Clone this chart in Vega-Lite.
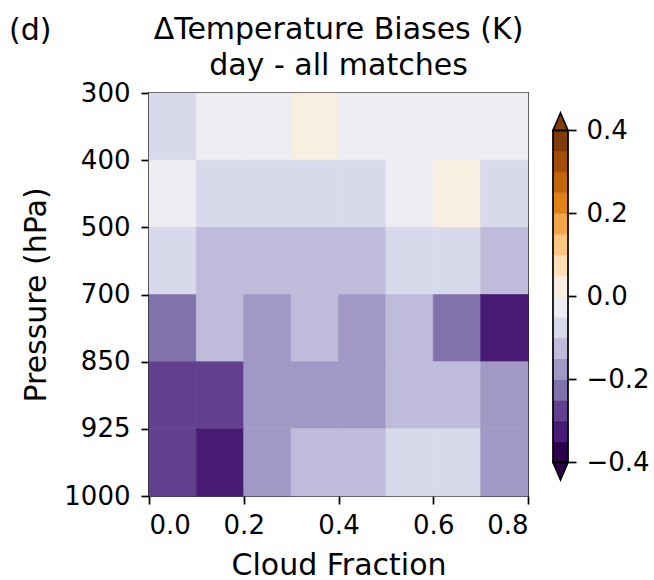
{
  "$schema": "https://vega.github.io/schema/vega-lite/v6.json",
  "background": "white",
  "padding": {"left": 8, "top": 14, "right": 5, "bottom": 0},
  "title": {"text": "(d)", "anchor": "start", "frame": "bounds", "offset": -32, "dx": -12, "fontSize": 30},
  "config": {
    "font": "DejaVu Sans",
    "view": {"stroke": null},
    "axis": {"labelFont": "DejaVu Sans", "labelFontSize": 26, "labelColor": "black", "titleFont": "DejaVu Sans", "titleFontSize": 30, "titleFontWeight": "normal", "titleColor": "black", "tickColor": "black", "tickWidth": 1.7, "tickSize": 8, "domainColor": "black", "domainWidth": 1.7, "grid": false, "labelPadding": 10},
    "title": {"font": "DejaVu Sans", "fontSize": 30, "fontWeight": "normal", "color": "black"}
  },
  "datasets": {
    "cells": [
      {"cf0": 0.0, "cf1": 0.1, "p0": 300, "p1": 400, "bias": -0.07},
      {"cf0": 0.1, "cf1": 0.2, "p0": 300, "p1": 400, "bias": -0.02},
      {"cf0": 0.2, "cf1": 0.3, "p0": 300, "p1": 400, "bias": -0.02},
      {"cf0": 0.3, "cf1": 0.4, "p0": 300, "p1": 400, "bias": 0.02},
      {"cf0": 0.4, "cf1": 0.5, "p0": 300, "p1": 400, "bias": -0.02},
      {"cf0": 0.5, "cf1": 0.6, "p0": 300, "p1": 400, "bias": -0.02},
      {"cf0": 0.6, "cf1": 0.7, "p0": 300, "p1": 400, "bias": -0.02},
      {"cf0": 0.7, "cf1": 0.8, "p0": 300, "p1": 400, "bias": -0.02},
      {"cf0": 0.0, "cf1": 0.1, "p0": 400, "p1": 500, "bias": -0.03},
      {"cf0": 0.1, "cf1": 0.2, "p0": 400, "p1": 500, "bias": -0.07},
      {"cf0": 0.2, "cf1": 0.3, "p0": 400, "p1": 500, "bias": -0.07},
      {"cf0": 0.3, "cf1": 0.4, "p0": 400, "p1": 500, "bias": -0.07},
      {"cf0": 0.4, "cf1": 0.5, "p0": 400, "p1": 500, "bias": -0.07},
      {"cf0": 0.5, "cf1": 0.6, "p0": 400, "p1": 500, "bias": -0.03},
      {"cf0": 0.6, "cf1": 0.7, "p0": 400, "p1": 500, "bias": 0.02},
      {"cf0": 0.7, "cf1": 0.8, "p0": 400, "p1": 500, "bias": -0.07},
      {"cf0": 0.0, "cf1": 0.1, "p0": 500, "p1": 700, "bias": -0.08},
      {"cf0": 0.1, "cf1": 0.2, "p0": 500, "p1": 700, "bias": -0.12},
      {"cf0": 0.2, "cf1": 0.3, "p0": 500, "p1": 700, "bias": -0.12},
      {"cf0": 0.3, "cf1": 0.4, "p0": 500, "p1": 700, "bias": -0.12},
      {"cf0": 0.4, "cf1": 0.5, "p0": 500, "p1": 700, "bias": -0.12},
      {"cf0": 0.5, "cf1": 0.6, "p0": 500, "p1": 700, "bias": -0.08},
      {"cf0": 0.6, "cf1": 0.7, "p0": 500, "p1": 700, "bias": -0.08},
      {"cf0": 0.7, "cf1": 0.8, "p0": 500, "p1": 700, "bias": -0.12},
      {"cf0": 0.0, "cf1": 0.1, "p0": 700, "p1": 850, "bias": -0.22},
      {"cf0": 0.1, "cf1": 0.2, "p0": 700, "p1": 850, "bias": -0.12},
      {"cf0": 0.2, "cf1": 0.3, "p0": 700, "p1": 850, "bias": -0.17},
      {"cf0": 0.3, "cf1": 0.4, "p0": 700, "p1": 850, "bias": -0.12},
      {"cf0": 0.4, "cf1": 0.5, "p0": 700, "p1": 850, "bias": -0.17},
      {"cf0": 0.5, "cf1": 0.6, "p0": 700, "p1": 850, "bias": -0.12},
      {"cf0": 0.6, "cf1": 0.7, "p0": 700, "p1": 850, "bias": -0.22},
      {"cf0": 0.7, "cf1": 0.8, "p0": 700, "p1": 850, "bias": -0.32},
      {"cf0": 0.0, "cf1": 0.1, "p0": 850, "p1": 925, "bias": -0.27},
      {"cf0": 0.1, "cf1": 0.2, "p0": 850, "p1": 925, "bias": -0.27},
      {"cf0": 0.2, "cf1": 0.3, "p0": 850, "p1": 925, "bias": -0.17},
      {"cf0": 0.3, "cf1": 0.4, "p0": 850, "p1": 925, "bias": -0.17},
      {"cf0": 0.4, "cf1": 0.5, "p0": 850, "p1": 925, "bias": -0.17},
      {"cf0": 0.5, "cf1": 0.6, "p0": 850, "p1": 925, "bias": -0.12},
      {"cf0": 0.6, "cf1": 0.7, "p0": 850, "p1": 925, "bias": -0.12},
      {"cf0": 0.7, "cf1": 0.8, "p0": 850, "p1": 925, "bias": -0.17},
      {"cf0": 0.0, "cf1": 0.1, "p0": 925, "p1": 1000, "bias": -0.27},
      {"cf0": 0.1, "cf1": 0.2, "p0": 925, "p1": 1000, "bias": -0.32},
      {"cf0": 0.2, "cf1": 0.3, "p0": 925, "p1": 1000, "bias": -0.17},
      {"cf0": 0.3, "cf1": 0.4, "p0": 925, "p1": 1000, "bias": -0.12},
      {"cf0": 0.4, "cf1": 0.5, "p0": 925, "p1": 1000, "bias": -0.12},
      {"cf0": 0.5, "cf1": 0.6, "p0": 925, "p1": 1000, "bias": -0.08},
      {"cf0": 0.6, "cf1": 0.7, "p0": 925, "p1": 1000, "bias": -0.08},
      {"cf0": 0.7, "cf1": 0.8, "p0": 925, "p1": 1000, "bias": -0.17}
    ],
    "cbar": [
      {"lo": -0.4, "hi": -0.35}, {"lo": -0.35, "hi": -0.3}, {"lo": -0.3, "hi": -0.25}, {"lo": -0.25, "hi": -0.2},
      {"lo": -0.2, "hi": -0.15}, {"lo": -0.15, "hi": -0.1}, {"lo": -0.1, "hi": -0.05}, {"lo": -0.05, "hi": 0.0},
      {"lo": 0.0, "hi": 0.05}, {"lo": 0.05, "hi": 0.1}, {"lo": 0.1, "hi": 0.15}, {"lo": 0.15, "hi": 0.2},
      {"lo": 0.2, "hi": 0.25}, {"lo": 0.25, "hi": 0.3}, {"lo": 0.3, "hi": 0.35}, {"lo": 0.35, "hi": 0.4}
    ],
    "ends": [
      {"side": "over", "end": 0.4},
      {"side": "under", "end": -0.4}
    ]
  },
  "spacing": 25,
  "bounds": "flush",
  "hconcat": [
    {
      "width": 379,
      "height": 403,
      "view": {"stroke": "black", "strokeWidth": 1.7},
      "title": {"text": ["ΔTemperature Biases (K)", "day - all matches"], "lineHeight": 36, "offset": -1, "anchor": "middle"},
      "data": {"name": "cells"},
      "transform": [
        {"calculate": "indexof([300,400,500,700,850,925,1000], datum.p0)", "as": "y0"},
        {"calculate": "indexof([300,400,500,700,850,925,1000], datum.p1)", "as": "y1"}
      ],
      "mark": {"type": "rect", "strokeWidth": 0.6},
      "encoding": {
        "x": {"field": "cf0", "type": "quantitative", "scale": {"domain": [0, 0.8], "nice": false, "zero": false},
              "axis": {"values": [0, 0.2, 0.4, 0.6, 0.8], "format": ".1f", "title": "Cloud Fraction", "domain": false, "labelPadding": 8, "titlePadding": 12}},
        "x2": {"field": "cf1"},
        "y": {"field": "y0", "type": "quantitative", "scale": {"domain": [0, 6], "reverse": true, "nice": false, "zero": false},
              "axis": {"values": [0, 1, 2, 3, 4, 5, 6], "labelExpr": "'' + [300,400,500,700,850,925,1000][datum.value]", "title": "Pressure (hPa)", "domain": false, "labelPadding": 11, "titlePadding": 12}},
        "y2": {"field": "y1"},
        "color": {"field": "bias", "type": "quantitative",
                  "scale": {"type": "threshold", "domain": [-0.35, -0.3, -0.25, -0.2, -0.15, -0.1, -0.05, 0.0, 0.05, 0.1, 0.15, 0.2, 0.25, 0.3, 0.35],
                            "range": ["#2d004b", "#471a74", "#63408f", "#8073ac", "#a198c5", "#bfbbda", "#d8daeb", "#ededf3", "#f9efe1", "#fee0b6", "#fdc57f", "#f3a649", "#e08214", "#c2660b", "#a24e07", "#7f3b08"]},
                  "legend": null},
        "stroke": {"field": "bias", "type": "quantitative",
                  "scale": {"type": "threshold", "domain": [-0.35, -0.3, -0.25, -0.2, -0.15, -0.1, -0.05, 0.0, 0.05, 0.1, 0.15, 0.2, 0.25, 0.3, 0.35],
                            "range": ["#2d004b", "#471a74", "#63408f", "#8073ac", "#a198c5", "#bfbbda", "#d8daeb", "#ededf3", "#f9efe1", "#fee0b6", "#fdc57f", "#f3a649", "#e08214", "#c2660b", "#a24e07", "#7f3b08"]},
                  "legend": null}
      }
    },
    {
      "width": 15,
      "height": 403,
      "view": {"stroke": null},
      "layer": [
        {
          "data": {"name": "cbar"},
          "mark": {"type": "rect", "strokeWidth": 0.6},
          "encoding": {
            "y": {"field": "lo", "type": "quantitative", "scale": {"domain": [-0.481, 0.49], "nice": false, "zero": false},
                  "axis": {"orient": "right", "values": [-0.4, -0.2, 0, 0.2, 0.4], "format": ".1f", "title": null, "domain": false}},
            "y2": {"field": "hi"},
            "color": {"field": "lo", "type": "quantitative",
                      "scale": {"type": "threshold", "domain": [-0.35, -0.3, -0.25, -0.2, -0.15, -0.1, -0.05, 0.0, 0.05, 0.1, 0.15, 0.2, 0.25, 0.3, 0.35],
                                "range": ["#2d004b", "#471a74", "#63408f", "#8073ac", "#a198c5", "#bfbbda", "#d8daeb", "#ededf3", "#f9efe1", "#fee0b6", "#fdc57f", "#f3a649", "#e08214", "#c2660b", "#a24e07", "#7f3b08"]},
                      "legend": null},
            "stroke": {"field": "lo", "type": "quantitative",
                      "scale": {"type": "threshold", "domain": [-0.35, -0.3, -0.25, -0.2, -0.15, -0.1, -0.05, 0.0, 0.05, 0.1, 0.15, 0.2, 0.25, 0.3, 0.35],
                                "range": ["#2d004b", "#471a74", "#63408f", "#8073ac", "#a198c5", "#bfbbda", "#d8daeb", "#ededf3", "#f9efe1", "#fee0b6", "#fdc57f", "#f3a649", "#e08214", "#c2660b", "#a24e07", "#7f3b08"]},
                      "legend": null}
          }
        },
        {
          "data": {"name": "cbar"},
          "mark": {"type": "rect", "filled": false, "color": "black", "strokeWidth": 1.7},
          "encoding": {
            "y": {"aggregate": "min", "field": "lo", "type": "quantitative"},
            "y2": {"aggregate": "max", "field": "hi"}
          }
        },
        {
          "data": {"name": "ends"},
          "mark": {"type": "point", "filled": true, "size": 225, "stroke": "black", "strokeWidth": 1.7, "opacity": 1},
          "encoding": {
            "y": {"field": "end", "type": "quantitative"},
            "shape": {"field": "side", "type": "nominal", "scale": {"domain": ["over", "under"], "range": ["M-1,0L0,-2.33L1,0Z", "M-1,0L0,2.33L1,0Z"]}, "legend": null},
            "color": {"field": "end", "type": "quantitative",
                      "scale": {"type": "threshold", "domain": [-0.35, -0.3, -0.25, -0.2, -0.15, -0.1, -0.05, 0.0, 0.05, 0.1, 0.15, 0.2, 0.25, 0.3, 0.35],
                                "range": ["#2d004b", "#471a74", "#63408f", "#8073ac", "#a198c5", "#bfbbda", "#d8daeb", "#ededf3", "#f9efe1", "#fee0b6", "#fdc57f", "#f3a649", "#e08214", "#c2660b", "#a24e07", "#7f3b08"]},
                      "legend": null}
          }
        }
      ]
    }
  ]
}
